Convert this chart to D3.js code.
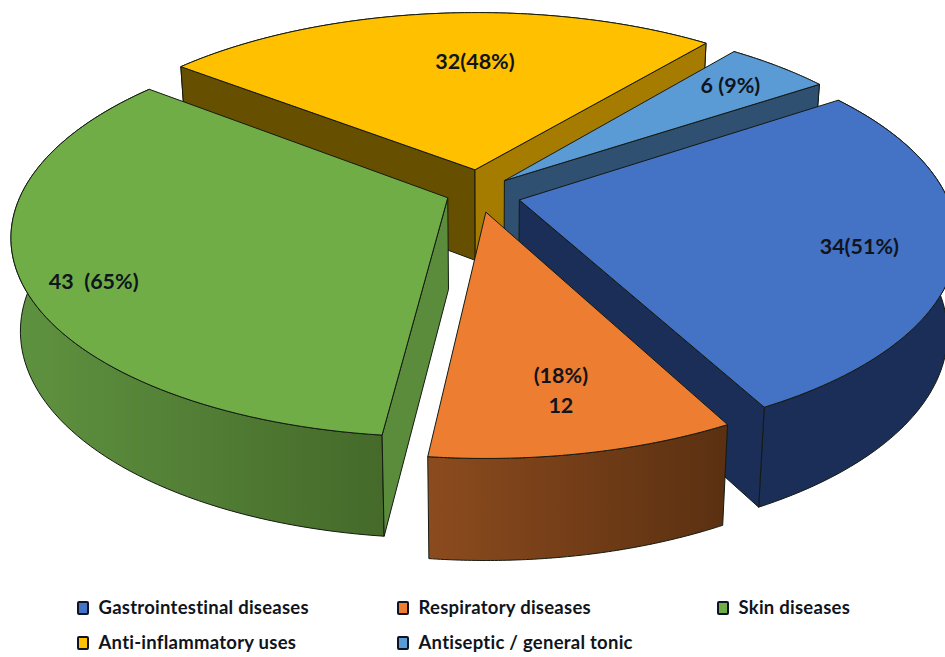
<!DOCTYPE html>
<html>
<head>
<meta charset="utf-8">
<script src="https://cdn.jsdelivr.net/npm/d3@7"></script>
<style>
html,body{margin:0;padding:0;background:#fff;}
svg{display:block;}
text{font-family:Lato,"Open Sans",sans-serif;font-weight:700;fill:#10141c;}
</style>
</head>
<body>
<svg id="chart" width="945" height="657"></svg>
<script>
// Chart values
const categories = ["Gastrointestinal diseases","Respiratory diseases","Skin diseases","Anti-inflammatory uses","Antiseptic / general tonic"];
const counts = [34,12,43,32,6];
const valueLabels = [["34(51%)"],["(18%)","12"],["43  (65%)"],["32(48%)"],["6 (9%)"]];

// Slice colours: top face, cut faces, outer wall gradient ends
const topColors = ["#4472c4","#ed7d31","#70ad47","#ffc000","#5b9bd5"];
const wallColors = [["#1a2e57","#1a2e57"],["#8c4b1e","#5a3011"],["#5f9340","#456a2a"],["#665000","#665000"],["#2f5070","#2f5070"]];
const startWallColors = ["#1a2e57","#8c4b1e","#5a8c3c","#665000","#2f5070"];
const endWallColors = ["#1a2e57","#5a3011","#5a8c3c","#a67c00","#2f5070"];

// Layout of the exploded pie, in units of the disk radius
const pullX = [0.08,0.002,-0.087,-0.024,0.046];
const pullY = [0.051,0.1125,0.04,-0.107,-0.049];
const paintOrder = [3,4,0,2,1];
const labelDx = [340,75,-354,0,226];
const labelDy = [54,171,91,-101,-88];

const width = 945, cx = 485, cy = 190;
const R = 425, C = 192.5, K = 5.5;
const firstAngle = 55.9 * Math.PI / 180;

const svg = d3.select("#chart");
const defs = svg.append("defs");

// Perspective projection of a point on the top plane of the disk
const project = (x, y) => {
  const w = K / (K - y);
  return [cx + R * x * w, cy + C * y * w];
};
// Same point on the bottom plane; verticals converge slightly downward
const dropped = p => [cx + (p[0] - cx) * 0.98, p[1] + 90.5 + (p[1] - 170) * 0.04];

const pie = d3.pie().sort(null).startAngle(firstAngle).endAngle(firstAngle + 2 * Math.PI);
const slices = pie(counts);
const path = d3.line();
const signedArea = pts => d3.polygonArea(pts);

const faceStroke = {stroke:"#141a12", "stroke-width":1, "stroke-linejoin":"round"};
const drawFace = (g, pts, fill) => {
  const f = g.append("path").attr("d", path(pts) + "Z").attr("fill", fill);
  Object.entries(faceStroke).forEach(([k,v]) => f.attr(k, v));
  return f;
};

paintOrder.forEach(i => {
  const s = slices[i];
  const g = svg.append("g");
  const steps = d3.range(0, 81).map(t => s.startAngle + (s.endAngle - s.startAngle) * t / 80);
  const rim = steps.map(a => project(pullX[i] + Math.sin(a), pullY[i] - Math.cos(a)));
  const apex = project(pullX[i], pullY[i]);
  const rimLow = rim.map(dropped);
  const apexLow = dropped(apex);

  // Horizontal shading across the outer wall
  const ext = d3.extent(rim, d => d[0]);
  const grad = defs.append("linearGradient").attr("id", "wall" + i)
    .attr("gradientUnits", "userSpaceOnUse")
    .attr("x1", ext[0]).attr("x2", ext[1]).attr("y1", 0).attr("y2", 0);
  grad.append("stop").attr("offset", 0).attr("stop-color", wallColors[i][0]);
  grad.append("stop").attr("offset", 1).attr("stop-color", wallColors[i][1]);

  // Outer wall, then the cut faces that turn toward the viewer, then the top
  drawFace(g, rim.concat(rimLow.slice().reverse()), `url(#wall${i})`);
  const startFace = [apex, rim[0], rimLow[0], apexLow];
  const endFace = [apex, rim[80], rimLow[80], apexLow];
  if (signedArea(startFace) > 0) drawFace(g, startFace, startWallColors[i]);
  if (signedArea(endFace) < 0) drawFace(g, endFace, endWallColors[i]);
  drawFace(g, [apex].concat(rim), topColors[i]);

  // Value label
  const t = g.append("text").attr("text-anchor", "middle").attr("font-size", 21.5);
  valueLabels[i].forEach((line, j) => {
    t.append("tspan")
      .attr("x", apex[0] + labelDx[i])
      .attr("y", apex[1] + labelDy[i] + j * 30)
      .style("white-space", "pre")
      .text(line);
  });
});

// Legend
const legendX = d3.scalePoint().domain([0,1,2]).range([83,723]);
const legendY = d3.scalePoint().domain([0,1]).range([608,643]);
const legend = svg.append("g").selectAll("g").data(categories).join("g")
  .attr("transform", (d,i) => `translate(${legendX(i % 3)},${legendY(Math.floor(i / 3))})`);
legend.append("rect").attr("x", -5).attr("y", -6).attr("width", 10).attr("height", 12).attr("rx", 1)
  .attr("fill", (d,i) => topColors[i]).attr("stroke", "#0c1426").attr("stroke-width", 2);
legend.append("text").attr("x", 15.5).attr("y", 6).attr("font-size", 18.5).attr("letter-spacing", 0.25).text(d => d);
</script>
</body>
</html>
